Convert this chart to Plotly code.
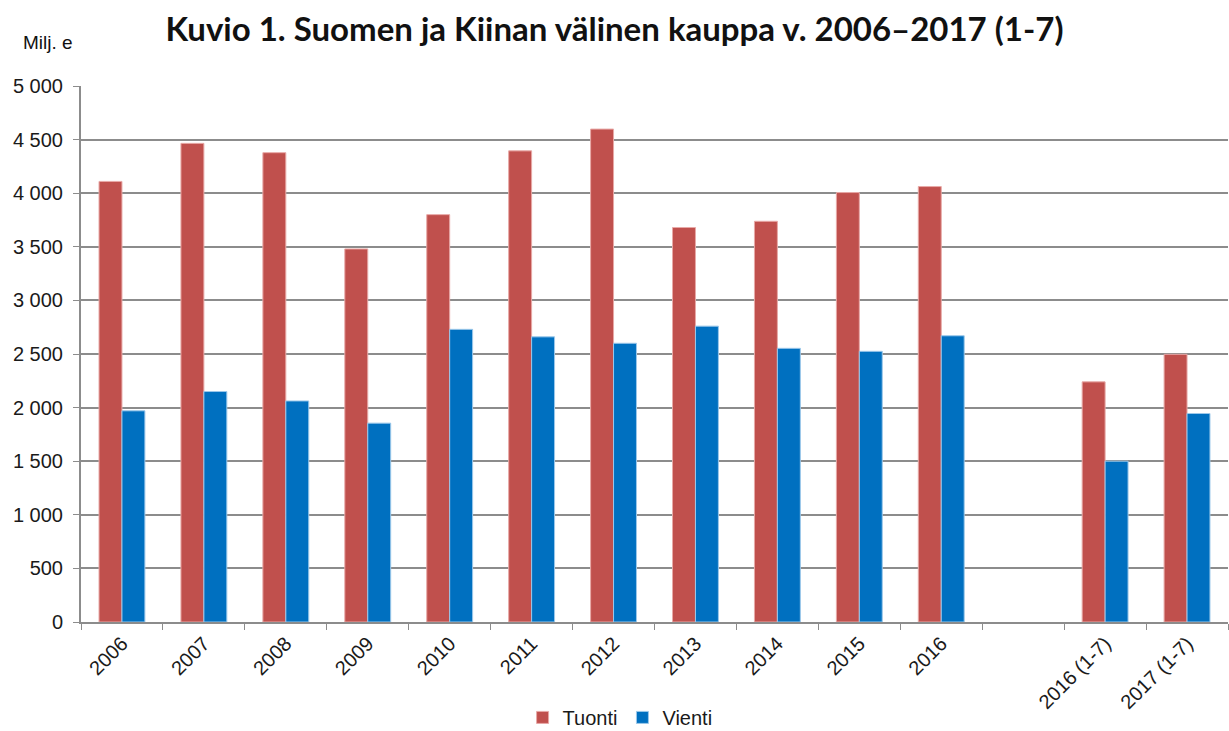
import plotly.graph_objects as go

categories = ["2006", "2007", "2008", "2009", "2010", "2011", "2012", "2013",
              "2014", "2015", "2016", " ", "2016 (1-7)", "2017 (1-7)"]
tuonti = [4110, 4465, 4378, 3480, 3800, 4395, 4598, 3680, 3738, 4006, 4062, None, 2240, 2497]
vienti = [1970, 2150, 2062, 1855, 2730, 2660, 2600, 2760, 2553, 2525, 2670, None, 1500, 1945]
y_ticks = [0, 500, 1000, 1500, 2000, 2500, 3000, 3500, 4000, 4500, 5000]
y_labels = ["0", "500", "1 000", "1 500", "2 000", "2 500", "3 000", "3 500", "4 000", "4 500", "5 000"]

fig = go.Figure()
fig.add_trace(go.Bar(x=categories, y=tuonti, name="Tuonti",
                     marker=dict(color="#C0504D", line=dict(color="#E8A9A7", width=1))))
fig.add_trace(go.Bar(x=categories, y=vienti, name="Vienti",
                     marker=dict(color="#0070C0", line=dict(color="#9CC8EA", width=1))))

fig.update_layout(
    width=1229, height=731,
    margin=dict(l=81, r=1, t=86, b=109, autoexpand=False),
    paper_bgcolor="white", plot_bgcolor="white",
    barmode="group", bargap=0.44, bargroupgap=0,
    font=dict(family="Liberation Sans, Arial", size=19, color="#1a1a1a"),
    title=dict(text="<b>Kuvio 1. Suomen ja Kiinan välinen kauppa v. 2006–2017 (1-7)</b>",
               x=0.5, xanchor="center", y=0.960, yanchor="middle",
               font=dict(family="Lato", size=33, color="#111", weight=900)),
    legend=dict(orientation="h", x=0.47, xanchor="center", y=-0.178, yanchor="middle",
                font=dict(size=20), itemwidth=30, tracegroupgap=0),
    showlegend=True,
)
fig.update_xaxes(
    type="category", categoryorder="array", categoryarray=categories,
    tickangle=-45, tickson="boundaries", ticks="outside", ticklen=6,
    tickcolor="#8c8c8c", showline=True, linecolor="#8c8c8c", linewidth=2,
    showgrid=False, tickfont=dict(size=20), automargin=False,
)
fig.update_yaxes(
    range=[0, 5000], tickvals=y_ticks, ticktext=y_labels,
    ticks="outside", ticklen=6, tickcolor="#8c8c8c",
    showline=True, linecolor="#8c8c8c", linewidth=2,
    showgrid=True, gridcolor="#8c8c8c", gridwidth=2,
    zeroline=False, tickfont=dict(size=20), ticklabelstandoff=6, automargin=False,
)
fig.add_annotation(text="Milj. e", xref="paper", yref="paper", x=-0.029, y=1.082,
                   xanchor="center", yanchor="middle", showarrow=False,
                   font=dict(family="Liberation Sans Narrow, Liberation Sans", size=19, color="#111"))

fig.write_html("out.html", config={"displayModeBar": False},
               post_script="document.body.style.margin='0';document.body.style.overflow='hidden';")
